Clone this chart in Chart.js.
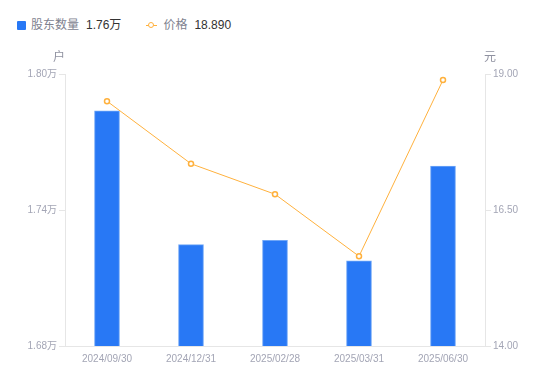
<!DOCTYPE html>
<html>
<head>
<meta charset="utf-8">
<script src="https://cdn.jsdelivr.net/npm/chart.js@4/dist/chart.umd.min.js"></script>
<style>
  html, body { margin: 0; padding: 0; background: #fff; }
  body { width: 550px; height: 381px; position: relative; overflow: hidden;
         font-family: "Liberation Sans", "Noto Sans CJK SC", sans-serif; }
  #legend { position: absolute; left: 17px; top: 17px; font-size: 12px; line-height: 16px;
            display: flex; align-items: center; white-space: nowrap; }
  .item { display: flex; align-items: center; margin-right: 25px; }
  .sq { width: 9px; height: 9px; background: #2878f5; border-radius: 1px; margin-right: 5px; }
  .ln { position: relative; width: 11px; height: 9px; margin-right: 6px; }
  .ln:before { content: ""; position: absolute; left: 0; right: 0; top: 4px; height: 1px; background: #ffb13d; }
  .ln:after { content: ""; position: absolute; left: 2px; top: 1px; width: 4px; height: 4px;
              border: 1.5px solid #ffb13d; border-radius: 50%; background: #fff; }
  .name { color: #80828f; margin-right: 7px; }
  .val { color: #333; }
  #wrap { position: absolute; left: 0; top: 0; width: 550px; height: 381px; }
</style>
</head>
<body>
<div id="legend">
  <div class="item"><span class="sq"></span><span class="name">股东数量</span><span class="val">1.76万</span></div>
  <div class="item"><span class="ln"></span><span class="name">价格</span><span class="val">18.890</span></div>
</div>
<div id="wrap"><canvas id="chart"></canvas></div>
<script>
const dates = ["2024/09/30", "2024/12/31", "2025/02/28", "2025/03/31", "2025/06/30"];
const holders = [1.7838, 1.7247, 1.7266, 1.7176, 1.7594]; // 万户
const prices = [18.50, 17.35, 16.79, 15.65, 18.89];       // 元
const leftTicks = [1.68, 1.74, 1.80];
const rightTicks = [14.00, 16.50, 19.00];

const gridColor = "#e6e6e6";
const tickColor = "#a3a5b5";
const fontFamily = '"Liberation Sans", "Noto Sans CJK SC", sans-serif';

// unit labels above both y axes
const unitLabels = {
  id: "unitLabels",
  afterDraw(chart) {
    const ctx = chart.ctx;
    const area = chart.chartArea;
    ctx.save();
    ctx.font = "12px " + fontFamily;
    ctx.fillStyle = "#8f91a0";
    ctx.textBaseline = "middle";
    ctx.textAlign = "center";
    ctx.fillText("户", area.left - 6, area.top - 16);
    ctx.fillText("元", area.right + 5, area.top - 16);
    ctx.restore();
  }
};

new Chart(document.getElementById("chart"), {
  data: {
    labels: dates,
    datasets: [
      {
        type: "line",
        label: "价格",
        data: prices,
        yAxisID: "y1",
        borderColor: "#ffb13d",
        borderWidth: 1,
        pointRadius: 2.5,
        pointBorderWidth: 1.5,
        pointBackgroundColor: "#fff",
        pointBorderColor: "#ffb13d",
        tension: 0,
        order: 1
      },
      {
        type: "bar",
        label: "股东数量",
        data: holders,
        yAxisID: "y",
        backgroundColor: "#2878f5",
        borderColor: "#6fa6f7",
        borderWidth: 1,
        barThickness: 25,
        order: 2
      }
    ]
  },
  options: {
    responsive: true,
    maintainAspectRatio: false,
    animation: false,
    layout: { padding: { top: 74, left: 0, right: 0, bottom: 0 } },
    plugins: {
      legend: { display: false },
      tooltip: { enabled: false }
    },
    scales: {
      x: {
        grid: { display: false, drawTicks: false },
        border: { display: true, color: gridColor },
        ticks: { color: tickColor, font: { size: 10, family: fontFamily }, padding: 7, maxRotation: 0 },
        afterFit: s => { s.height = 35; }
      },
      y: {
        position: "left",
        min: 1.68,
        max: 1.80,
        afterBuildTicks: s => { s.ticks = leftTicks.map(v => ({ value: v })); },
        grid: { drawOnChartArea: false, tickLength: 6, color: gridColor },
        border: { color: gridColor },
        ticks: { color: tickColor, font: { size: 10, family: fontFamily }, padding: 2,
                 callback: v => v.toFixed(2) + "万" },
        afterFit: s => { s.width = 65; }
      },
      y1: {
        position: "right",
        min: 14,
        max: 19,
        afterBuildTicks: s => { s.ticks = rightTicks.map(v => ({ value: v })); },
        grid: { drawOnChartArea: false, tickLength: 6, color: gridColor },
        border: { color: gridColor },
        ticks: { color: tickColor, font: { size: 10, family: fontFamily }, padding: 2,
                 callback: v => v.toFixed(2) },
        afterFit: s => { s.width = 65; }
      }
    }
  },
  plugins: [unitLabels]
});
</script>
</body>
</html>
